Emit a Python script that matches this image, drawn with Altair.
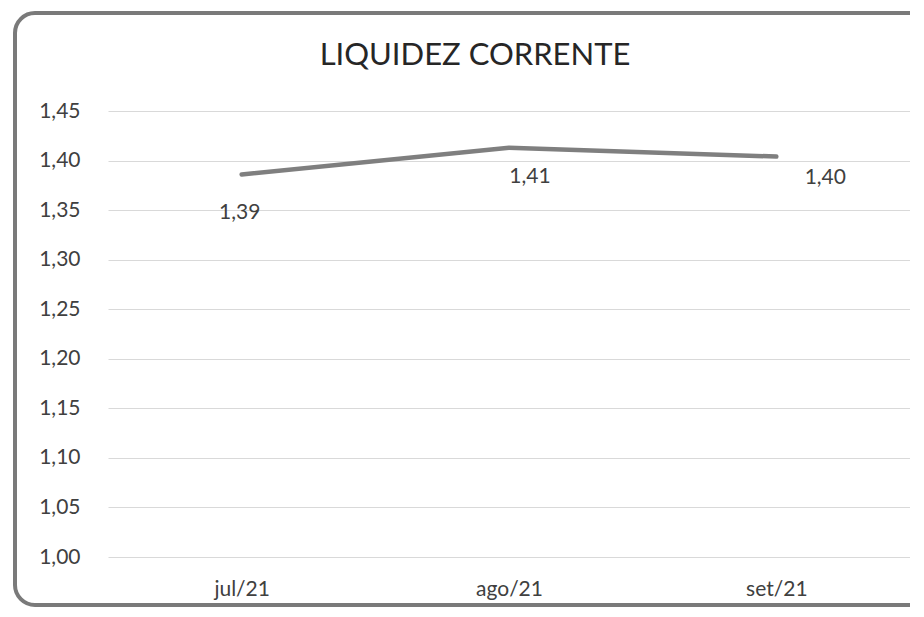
import altair as alt
import pandas as pd

months = ["jul/21", "ago/21", "set/21"]
liquidez = [1.386, 1.413, 1.404]
labels = ["1,39", "1,41", "1,40"]
y_ticks = [1.00, 1.05, 1.10, 1.15, 1.20, 1.25, 1.30, 1.35, 1.40, 1.45]
title_text = "LIQUIDEZ CORRENTE"

df = pd.DataFrame({"mes": months, "valor": liquidez, "rotulo": labels})

FONT = "Lato"
TXT = "#404040"
FS = 21

# per-label offsets (style, not data)
label_offsets = {"jul/21": (-2, 39), "ago/21": (21, 29), "set/21": (49, 21)}

x_enc = alt.X("mes:N", sort=months, title=None,
              scale=alt.Scale(paddingInner=0, paddingOuter=0),
              axis=alt.Axis(labelAngle=0, ticks=False, domain=False, grid=False,
                            labelFont=FONT, labelFontSize=FS, labelColor=TXT,
                            labelPadding=21))
y_enc = alt.Y("valor:Q", title=None,
              scale=alt.Scale(domain=[1.0, 1.45], nice=False, zero=False),
              axis=alt.Axis(values=y_ticks, ticks=False, domain=False,
                            grid=True, gridColor="#d9d9d9", gridWidth=1,
                            labelFont=FONT, labelFontSize=FS, labelColor=TXT,
                            labelPadding=28,
                            labelExpr="replace(format(datum.value, '.2f'), '.', ',')"))

base = alt.Chart(df)

line = base.mark_line(color="#7f7f7f", strokeWidth=4.5, strokeCap="round",
                      strokeJoin="round").encode(x=x_enc, y=y_enc)

text_layers = []
for m in months:
    dx, dy = label_offsets[m]
    text_layers.append(
        base.transform_filter(alt.datum.mes == m)
        .mark_text(font=FONT, fontSize=FS, color=TXT, dx=dx, dy=dy, baseline="middle")
        .encode(x=alt.X("mes:N", sort=months), y="valor:Q", text="rotulo:N")
    )

frame_data = alt.Data(values=[{"k": 1}])
frame = alt.Chart(frame_data).mark_rect(
    fill="transparent", stroke="#7a7a7a", strokeWidth=4, cornerRadius=20
).encode(x=alt.value(-93), x2=alt.value(840), y=alt.value(-98), y2=alt.value(494))

title = alt.Chart(frame_data).mark_text(
    text=title_text, font=FONT, fontSize=31, color="#262626",
    align="center", baseline="middle"
).encode(x=alt.value(367), y=alt.value(-55))

chart = alt.layer(line, *text_layers, frame, title).properties(
    width=802, height=446,
    padding={"left": 100, "top": 103, "right": 0, "bottom": 50},
    autosize=alt.AutoSizeParams(type="none"),
    background="white",
).configure_view(stroke=None)

chart.save("out.html", embed_options={"renderer": "svg", "actions": False})
